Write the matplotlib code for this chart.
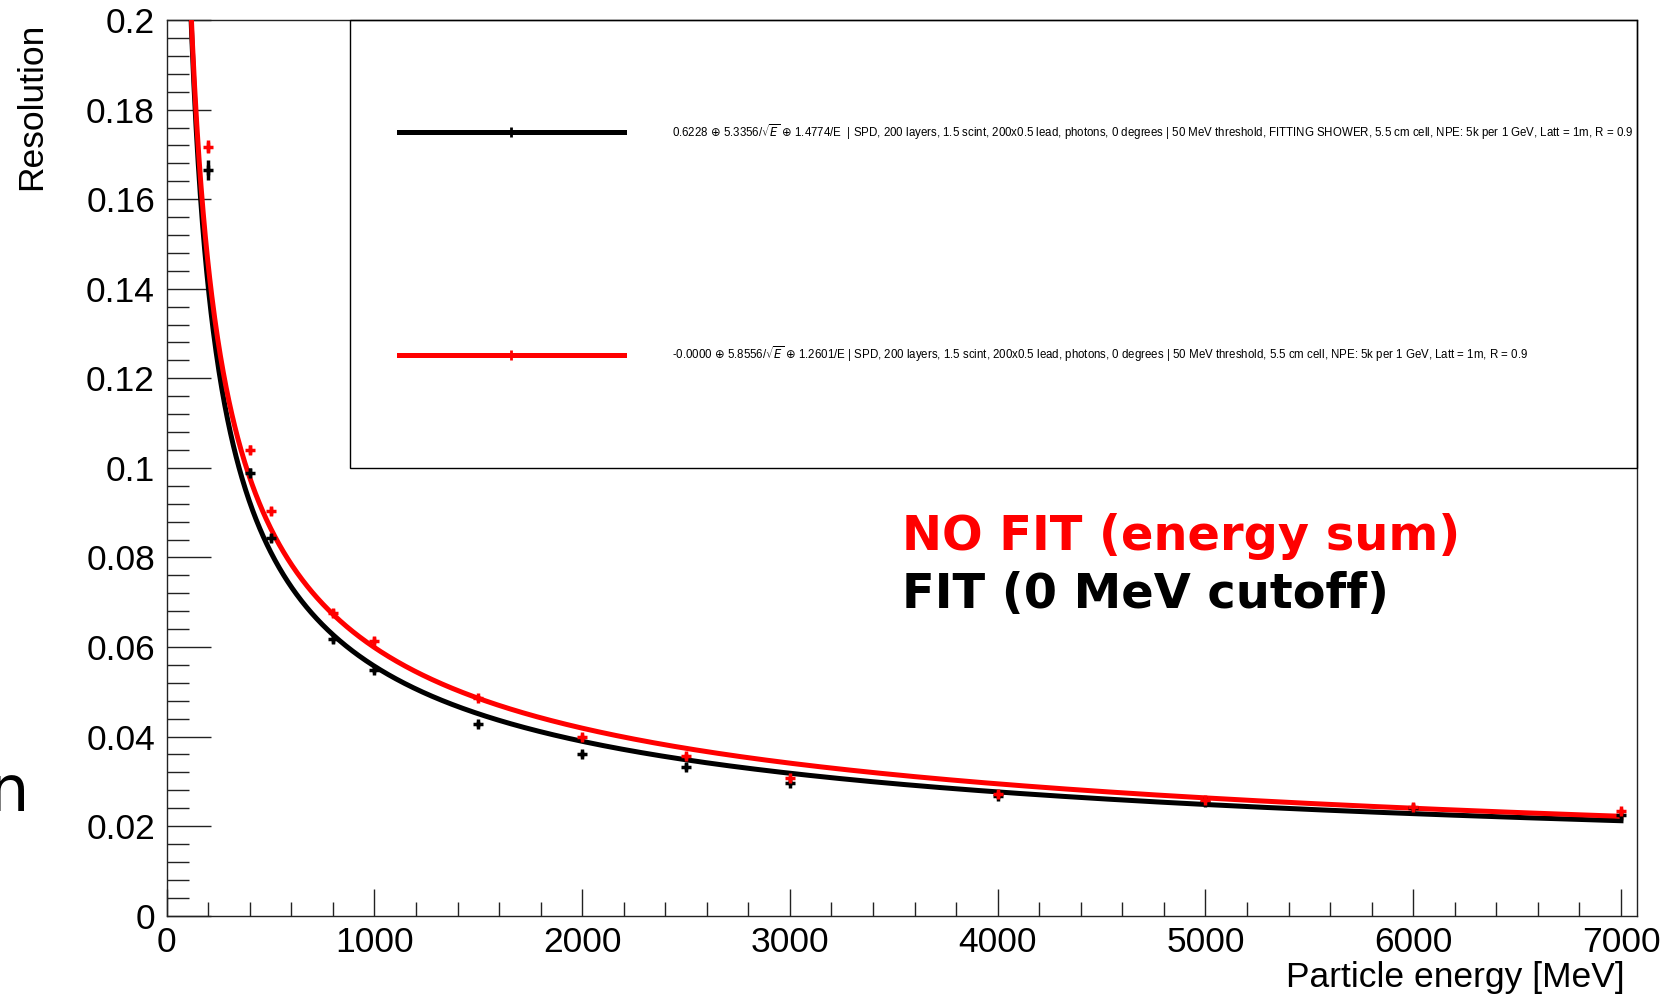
import numpy as np
import matplotlib
matplotlib.use("Agg")
import matplotlib.pyplot as plt
from matplotlib.patches import Rectangle
from matplotlib.ticker import MultipleLocator, FixedLocator

# measured points (energy in MeV, resolution)
energy = [200, 400, 500, 800, 1000, 1500, 2000, 2500, 3000, 4000, 5000, 6000, 7000]
res_fit = [0.1665, 0.0989, 0.0843, 0.0618, 0.0549, 0.0428, 0.0361, 0.0333, 0.0297,
           0.0268, 0.0253, 0.0240, 0.0225]
err_fit = [0.0022, 0.0010, 0.0009, 0.0008, 0.0008, 0.0007, 0.0007, 0.0007, 0.0006,
           0.0006, 0.0006, 0.0006, 0.0006]
res_nofit = [0.1717, 0.1040, 0.0904, 0.0676, 0.0614, 0.0486, 0.0399, 0.0357, 0.0307,
             0.0272, 0.0259, 0.0243, 0.0234]
err_nofit = [0.0015, 0.0010, 0.0009, 0.0008, 0.0008, 0.0007, 0.0007, 0.0007, 0.0006,
             0.0006, 0.0006, 0.0006, 0.0006]

# fit parameters shown in the legend: a (+) b/sqrt(E) (+) c/E, in %, E in GeV
par_fit = [0.6228, 5.3356, 1.4774]
par_nofit = [0.0000, 5.8556, 1.2601]
fit_range = [100, 7000]

label_fit = (r"0.6228 $\oplus$ 5.3356/$\sqrt{E}$ $\oplus$ 1.4774/E  | SPD, 200 layers, 1.5 scint, "
             r"200x0.5 lead, photons, 0 degrees | 50 MeV threshold, FITTING SHOWER, 5.5 cm cell, "
             r"NPE: 5k per 1 GeV, Latt = 1m, R = 0.9")
label_nofit = (r"-0.0000 $\oplus$ 5.8556/$\sqrt{E}$ $\oplus$ 1.2601/E | SPD, 200 layers, 1.5 scint, "
               r"200x0.5 lead, photons, 0 degrees | 50 MeV threshold, 5.5 cm cell, "
               r"NPE: 5k per 1 GeV, Latt = 1m, R = 0.9")

ytick_vals = [0, 0.02, 0.04, 0.06, 0.08, 0.1, 0.12, 0.14, 0.16, 0.18, 0.2]
ytick_text = ["0", "0.02", "0.04", "0.06", "0.08", "0.1", "0.12", "0.14", "0.16", "0.18", "0.2"]

RED = (1, 0, 0)
BLK = (0, 0, 0)
SANS = "Liberation Sans"


def resolution(e_mev, p):
    e = np.asarray(e_mev) / 1000.0
    return np.sqrt(p[0] ** 2 + p[1] ** 2 / e + p[2] ** 2 / e ** 2) / 100.0


fig = plt.figure(figsize=(16.8, 9.96), dpi=100)
ax = fig.add_axes([0.0992, 0.0806, 0.8752, 0.8993])

e_grid = np.linspace(fit_range[0], fit_range[1], 2000)
ax.plot(e_grid, resolution(e_grid, par_fit), color=BLK, lw=3.6, zorder=3)
ax.plot(e_grid, resolution(e_grid, par_nofit), color=RED, lw=3.6, zorder=4)

ax.errorbar(energy, res_fit, yerr=err_fit, fmt="+", color=BLK, ms=7, mew=2.5,
            elinewidth=2.5, capsize=0, zorder=5)
ax.errorbar(energy, res_nofit, yerr=err_nofit, fmt="+", color=RED, ms=7, mew=2.5,
            elinewidth=2.5, capsize=0, zorder=6)

ax.set_xlim(0, 7077)
ax.set_ylim(0, 0.2)

ax.xaxis.set_major_locator(FixedLocator(np.arange(0, 7001, 1000)))
ax.xaxis.set_minor_locator(FixedLocator(np.arange(0, 7001, 200)))
ax.yaxis.set_major_locator(FixedLocator(ytick_vals))
ax.yaxis.set_minor_locator(MultipleLocator(0.004))
ax.set_yticklabels(ytick_text)

ax.tick_params(axis="both", which="both", direction="in", top=False, right=False,
               width=1.0, color="#222222", labelsize=25.5)
ax.tick_params(axis="y", which="major", length=32, pad=8.4)
ax.tick_params(axis="y", which="minor", length=16)
ax.tick_params(axis="x", which="major", length=19.5, pad=7.5)
ax.tick_params(axis="x", which="minor", length=10)
for lab in ax.get_xticklabels() + ax.get_yticklabels():
    lab.set_fontfamily(SANS)
for sp in ax.spines.values():
    sp.set_linewidth(1.0)
    sp.set_color("#222222")

# legend box, ROOT style
ax.add_patch(Rectangle((0.1249, 0.4998), 0.8751, 0.5002, transform=ax.transAxes,
                       fill=False, edgecolor="black", lw=1.0, zorder=7, clip_on=False))
for yy, col, lab in [(0.8752, BLK, label_fit), (0.6264, RED, label_nofit)]:
    ax.plot([0.1577, 0.3108], [yy, yy], transform=ax.transAxes, color=col, lw=3.6, zorder=8)
    ax.plot([0.2342], [yy], transform=ax.transAxes, marker="|", ms=7, mew=2,
            color=col, zorder=8)
    ax.text(0.3437, yy, lab, transform=ax.transAxes, fontsize=8.3, family=SANS,
            va="center", ha="left", zorder=8)

# axis titles
fig.text(32 / 1680, 1 - 23 / 996, "Resolution", rotation=90, ha="center", va="top",
         fontsize=25.5, family=SANS)
fig.text(1625 / 1680, 1 - 977 / 996, "Particle energy [MeV]", ha="right", va="center",
         fontsize=25.5, family=SANS)

# annotations
fig.text(0.537, 1 - 550 / 996, "NO FIT (energy sum)", color=RED, fontsize=34.5,
         fontweight="bold", family="DejaVu Sans", ha="left", va="baseline")
fig.text(0.537, 1 - 608 / 996, "FIT (0 MeV cutoff)", color=BLK, fontsize=34.5,
         fontweight="bold", family="DejaVu Sans", ha="left", va="baseline")
# partly clipped label at the left edge (as in the original)
fig.text(29 / 1680, 1 - 811 / 996, "Energy resolution", fontsize=46,
         family="DejaVu Sans", ha="right", va="baseline")

fig.savefig("out.png", dpi=100, facecolor="white")
